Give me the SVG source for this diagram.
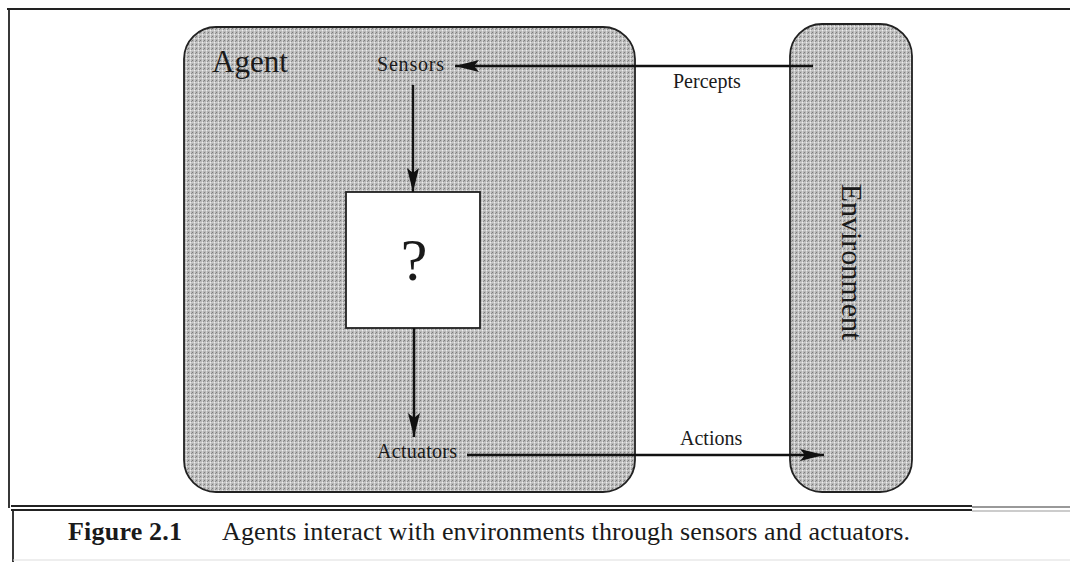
<svg xmlns="http://www.w3.org/2000/svg" width="1070" height="562" viewBox="0 0 1070 562">
<defs>
<pattern id="stip" width="4" height="4" patternUnits="userSpaceOnUse">
<rect width="4" height="4" fill="#b5b5b5"/>
<rect x="0" y="0" width="1" height="1" fill="#7d7d7d"/>
<rect x="2" y="0" width="1" height="4" fill="#d2d2d2"/>
<rect x="0" y="2" width="4" height="1" fill="#cbcbcb"/>
<rect x="2" y="2" width="1" height="1" fill="#ececec"/>
<rect x="3" y="1" width="1" height="1" fill="#8f8f8f"/>
</pattern>
<marker id="ah" viewBox="0 0 24 12" refX="24" refY="6" markerWidth="24" markerHeight="12" markerUnits="userSpaceOnUse" orient="auto">
<path d="M0,0 L24,6 L0,12 L5,6 Z" fill="#111"/>
</marker>
<style>
.box{fill:url(#stip);stroke:#222;stroke-width:1.8}
.lbl{font-family:"Liberation Serif","Times New Roman",serif;fill:#1a1a1a}
.conn{stroke:#111;stroke-width:2.4;fill:none;marker-end:url(#ah)}
.frame{stroke:#222;stroke-width:1.8;fill:none}
</style>
</defs>
<g id="frame">
<line class="frame" x1="7" y1="9" x2="1070" y2="9"/>
<line class="frame" x1="9" y1="9" x2="9" y2="508"/>
<line class="frame" x1="11" y1="506" x2="972" y2="506"/>
<line class="frame" x1="11" y1="510" x2="972" y2="510"/>
<line x1="972" y1="507" x2="1070" y2="507" stroke="#777" stroke-width="1.5"/>
<line x1="972" y1="511" x2="1070" y2="511" stroke="#999" stroke-width="1.2"/>
<line x1="13" y1="510" x2="13" y2="562" stroke="#222" stroke-width="1.8"/>
<line x1="13" y1="560" x2="1070" y2="560" stroke="#ddd" stroke-width="1"/>
</g>
<g id="agent">
<rect class="box" x="184" y="27" width="451" height="465" rx="32" ry="32"/>
<text class="lbl" x="212" y="72" font-size="31">Agent</text>
</g>
<g id="environment">
<rect class="box" x="790" y="24" width="122" height="468" rx="32" ry="32"/>
<text class="lbl" font-size="30" text-anchor="middle" transform="translate(842,262) rotate(90)">Environment</text>
</g>
<g id="sensors">
<text class="lbl" x="377" y="71" font-size="20" textLength="67">Sensors</text>
</g>
<g id="actuators">
<text class="lbl" x="377" y="458" font-size="20" textLength="80">Actuators</text>
</g>
<g id="unknown">
<rect x="346" y="192" width="134" height="136" fill="#fff" stroke="#222" stroke-width="1.8"/>
<text class="lbl" x="414" y="280" font-size="60" text-anchor="middle">?</text>
</g>
<g id="connectors">
<line class="conn" x1="813" y1="66" x2="455" y2="66"/>
<text class="lbl" x="673" y="88" font-size="20">Percepts</text>
<line class="conn" x1="413" y1="85" x2="413" y2="192"/>
<line class="conn" x1="414" y1="328" x2="414" y2="437"/>
<line class="conn" x1="467" y1="455" x2="824" y2="455"/>
<text class="lbl" x="680" y="445" font-size="20">Actions</text>
</g>
<g id="caption">
<text class="lbl" x="68" y="540" font-size="26" font-weight="bold" textLength="114">Figure 2.1</text>
<text class="lbl" x="222" y="540" font-size="26" textLength="688">Agents interact with environments through sensors and actuators.</text>
</g>
</svg>
